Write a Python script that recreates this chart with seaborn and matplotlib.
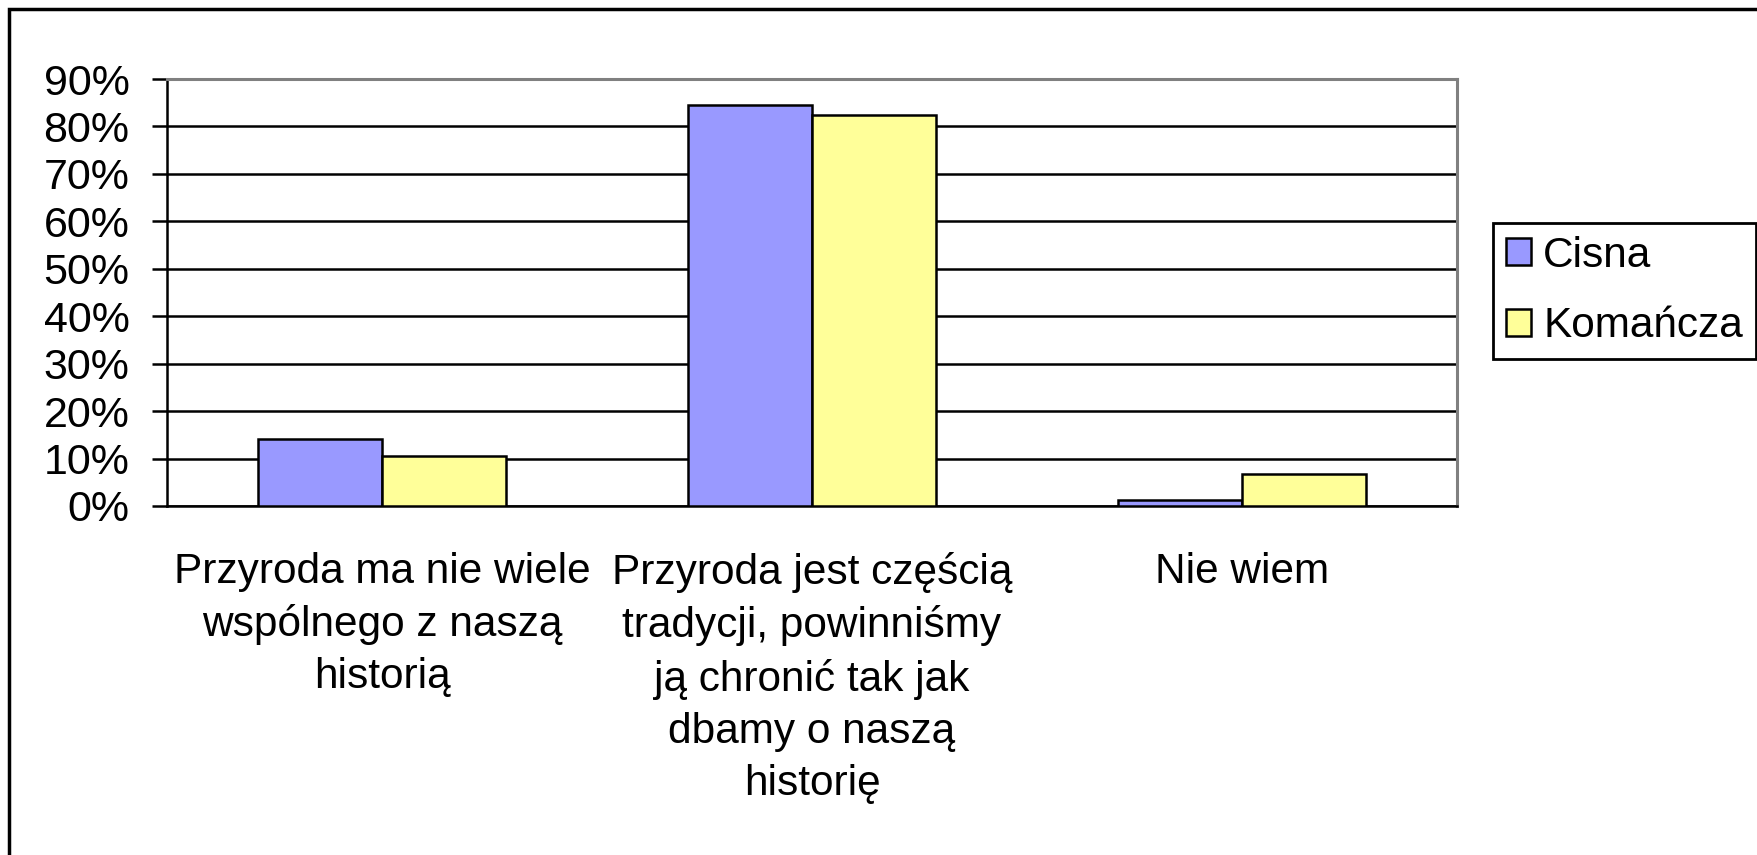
import pandas as pd
import seaborn as sns
import matplotlib.pyplot as plt
from matplotlib.patches import Rectangle


categories = [
    "Przyroda ma nie wiele\nwspólnego z naszą\nhistorią",
    "Przyroda jest częścią\ntradycji, powinniśmy\nją chronić tak jak\ndbamy o naszą\nhistorię",
    "Nie wiem",
]
cisna = [14.1, 84.5, 1.3]
komancza = [10.6, 82.4, 6.7]
series = ["Cisna", "Komańcza"]
y_ticks = [0, 10, 20, 30, 40, 50, 60, 70, 80, 90]
y_labels = [f"{v}%" for v in y_ticks]

df = pd.DataFrame({
    "Kategoria": categories * 2,
    "Gmina": [series[0]] * 3 + [series[1]] * 3,
    "Procent": cisna + komancza,
})

sns.set_style("white")
plt.rcParams['font.family'] = ['Liberation Sans', 'DejaVu Sans']
plt.rcParams['text.color'] = 'black'
plt.rcParams['xtick.color'] = 'black'
plt.rcParams['ytick.color'] = 'black'

fig = plt.figure(figsize=(17.58, 8.55), dpi=100)
ax = fig.add_axes([0.095, 0.4082, 0.8288 - 0.095, 0.9076 - 0.4082])

sns.barplot(data=df, x="Kategoria", y="Procent", hue="Gmina", order=categories,
            hue_order=series, palette=["#9999FF", "#FFFF99"], saturation=1, width=0.575,
            edgecolor="black", linewidth=1.8, ax=ax, zorder=3)

ax.set_ylim(0, 90)
ax.set_xlim(-0.5, 2.5)
ax.set_yticks(y_ticks)
ax.set_yticklabels(y_labels, fontsize=31)
ax.yaxis.grid(True, color="black", linewidth=1.8, zorder=0)
ax.set_axisbelow(True)

ax.set_xticks(range(len(categories)))
ax.set_xticklabels(categories, fontsize=30.5, linespacing=1.39, va="top")
ax.set_xticks([-0.5, 0.5, 1.5, 2.5], minor=True)
ax.tick_params(axis="x", which="major", length=0, pad=33)
ax.tick_params(axis="x", which="minor", length=11, width=1.8, direction="out", color="black")
ax.tick_params(axis="y", length=11, width=1.8, direction="out", color="black", pad=16, left=True)
ax.set_xlabel("")
ax.set_ylabel("")

for side in ["left", "bottom"]:
    ax.spines[side].set_color("black")
    ax.spines[side].set_linewidth(1.8)
for side in ["top", "right"]:
    ax.spines[side].set_color("#808080")
    ax.spines[side].set_linewidth(2.2)

leg = ax.legend(loc="upper left", bbox_to_anchor=(0.8493, 0.7392), bbox_transform=fig.transFigure,
                fontsize=30.5, frameon=True, fancybox=False, framealpha=1, edgecolor="black",
                handlelength=0.6, handleheight=0.6, handletextpad=0.28, borderpad=0.3,
                labelspacing=0.72, borderaxespad=0)
leg.get_frame().set_linewidth(2)
for t in leg.get_texts():
    t.set_color("black")
for h in leg.legend_handles:
    h.set_linewidth(1.8)

# outer chart-area frame: only the top and left edges fall inside the image
fig.patches.append(Rectangle((9 / 1758, -0.05), 1.05, 1.05 - 9 / 855,
                             transform=fig.transFigure, fill=False, edgecolor="black",
                             linewidth=2.5))

fig.savefig("out.png", dpi=100)
